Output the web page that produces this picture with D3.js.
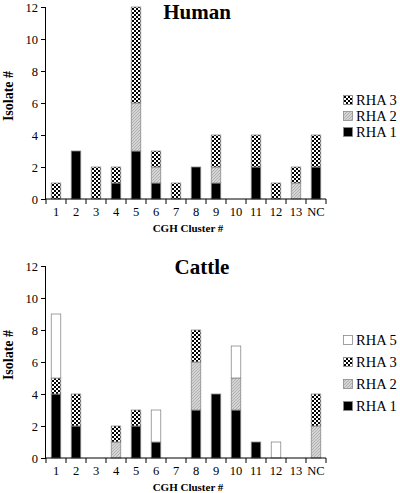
<!DOCTYPE html>
<html><head><meta charset="utf-8">
<script src="https://cdn.jsdelivr.net/npm/d3@7"></script>
<style>body{margin:0;background:#fff}svg{display:block}svg text{font-family:"Liberation Serif","Times New Roman",Times,serif !important;fill:#000}</style>
</head><body>
<script>
const categories = ["1","2","3","4","5","6","7","8","9","10","11","12","13","NC"];
const yTicks = [0,2,4,6,8,10,12];
// Human
const humanRHA1 = [0,3,0,1,3,1,0,2,1,0,2,0,0,2];
const humanRHA2 = [0,0,0,0,3,1,0,0,1,0,0,0,1,0];
const humanRHA3 = [1,0,2,1,6,1,1,0,2,0,2,1,1,2];
// Cattle
const cattleRHA1 = [4,2,0,0,2,1,0,3,4,3,1,0,0,0];
const cattleRHA2 = [0,0,0,1,0,0,0,3,0,2,0,0,0,2];
const cattleRHA3 = [1,2,0,1,1,0,0,2,0,0,0,0,0,2];
const cattleRHA5 = [4,0,0,0,0,2,0,0,0,2,0,1,0,0];

const SERIF = '"Liberation Serif","Times New Roman",Times,serif';
const svg = d3.select("body").append("svg").attr("width",400).attr("height",493);
const defs = svg.append("defs");
const p3 = defs.append("pattern").attr("id","pat3").attr("width",4).attr("height",4).attr("patternUnits","userSpaceOnUse");
p3.append("rect").attr("width",4).attr("height",4).attr("fill","#fff");
p3.append("rect").attr("width",2).attr("height",2).attr("fill","#000");
p3.append("rect").attr("x",2).attr("y",2).attr("width",2).attr("height",2).attr("fill","#000");
const p2 = defs.append("pattern").attr("id","pat2").attr("width",3).attr("height",3).attr("patternUnits","userSpaceOnUse");
p2.append("rect").attr("width",3).attr("height",3).attr("fill","#d4d4d4");
p2.append("path").attr("d","M0,3L3,0").attr("stroke","#a8a8a8").attr("stroke-width",0.8);

const fills = {RHA1:"#000", RHA2:"url(#pat2)", RHA3:"url(#pat3)", RHA5:"#fff"};

function panel(cfg){
  const g = svg.append("g").style("font-family",SERIF);
  const x = d3.scaleBand().domain(categories).range([46,326]);
  const y = d3.scaleLinear().domain([0,12]).range([cfg.y0, cfg.y0-192]);
  const keys = cfg.series.map(s=>s.key);
  const rows = categories.map((c,i)=>{const o={cat:c}; cfg.series.forEach(s=>o[s.key]=s.values[i]); return o;});
  const stacked = d3.stack().keys(keys)(rows);
  const bw = 9.5;
  stacked.forEach(layer=>{
    g.append("g").selectAll("rect").data(layer.filter(d=>d[1]>d[0])).join("rect")
      .attr("x",d=>x(d.data.cat)+x.bandwidth()/2-bw/2)
      .attr("y",d=>y(d[1]))
      .attr("width",bw)
      .attr("height",d=>y(d[0])-y(d[1]))
      .attr("fill",fills[layer.key])
      .attr("stroke","#8a8a8a").attr("stroke-width",0.8);
  });
  // y axis
  const ya = g.append("g").attr("transform","translate(46,0)")
    .call(d3.axisLeft(y).tickValues(yTicks).tickSize(5).tickPadding(3));
  ya.attr("font-family",null);
  ya.select(".domain").attr("stroke","#000").attr("d",`M-0.5,${cfg.y0}V${cfg.y0-192}`);
  ya.selectAll("text").attr("font-size","12.5px").style("font-family",SERIF).attr("fill","#000");
  // x axis
  const xg = g.append("g").attr("transform",`translate(0,${cfg.y0})`);
  xg.append("line").attr("x1",46).attr("x2",326).attr("stroke","#000");
  const bounds = categories.map(c=>x(c)).concat([x(categories[categories.length-1])+x.bandwidth()]);
  xg.selectAll("line.t").data(bounds).join("line").attr("class","t")
    .attr("x1",d=>d).attr("x2",d=>d).attr("y1",0).attr("y2",5).attr("stroke","#000");
  xg.selectAll("text.l").data(categories).join("text").attr("class","l")
    .attr("x",d=>x(d)+x.bandwidth()/2).attr("y",17).attr("text-anchor","middle")
    .attr("font-size","12.5px").style("font-family",SERIF).text(d=>d);
  g.append("text").attr("x",188).attr("y",cfg.y0+33).attr("text-anchor","middle")
    .attr("font-weight","bold").attr("font-size","11px").style("font-family",SERIF).text("CGH Cluster #");
  g.append("text").attr("transform",`translate(13,${cfg.y0-103}) rotate(-90)`).attr("text-anchor","middle")
    .attr("font-weight","bold").attr("font-size","14px").style("font-family",SERIF).text("Isolate #");
  g.append("text").attr("x",cfg.titleX).attr("y",cfg.titleY).attr("text-anchor","middle")
    .attr("font-weight","bold").attr("font-size","21px").style("font-family",SERIF).text(cfg.title);
  // legend (reverse order)
  const leg = cfg.series.slice().reverse();
  leg.forEach((s,i)=>{
    const cy = cfg.legY + i*cfg.legStep;
    g.append("rect").attr("x",343.5).attr("y",cy-4.5).attr("width",9).attr("height",9)
      .attr("fill",fills[s.key]).attr("stroke","#8a8a8a").attr("stroke-width",0.8);
    g.append("text").attr("x",356).attr("y",cy+5).attr("font-size","14.5px").style("font-family",SERIF).text(s.label);
  });
}

panel({y0:199, title:"Human", titleX:197, titleY:19, legY:100, legStep:16,
  series:[{key:"RHA1",label:"RHA 1",values:humanRHA1},{key:"RHA2",label:"RHA 2",values:humanRHA2},{key:"RHA3",label:"RHA 3",values:humanRHA3}]});
panel({y0:458, title:"Cattle", titleX:202, titleY:274, legY:340, legStep:22,
  series:[{key:"RHA1",label:"RHA 1",values:cattleRHA1},{key:"RHA2",label:"RHA 2",values:cattleRHA2},{key:"RHA3",label:"RHA 3",values:cattleRHA3},{key:"RHA5",label:"RHA 5",values:cattleRHA5}]});
</script>
</body></html>
